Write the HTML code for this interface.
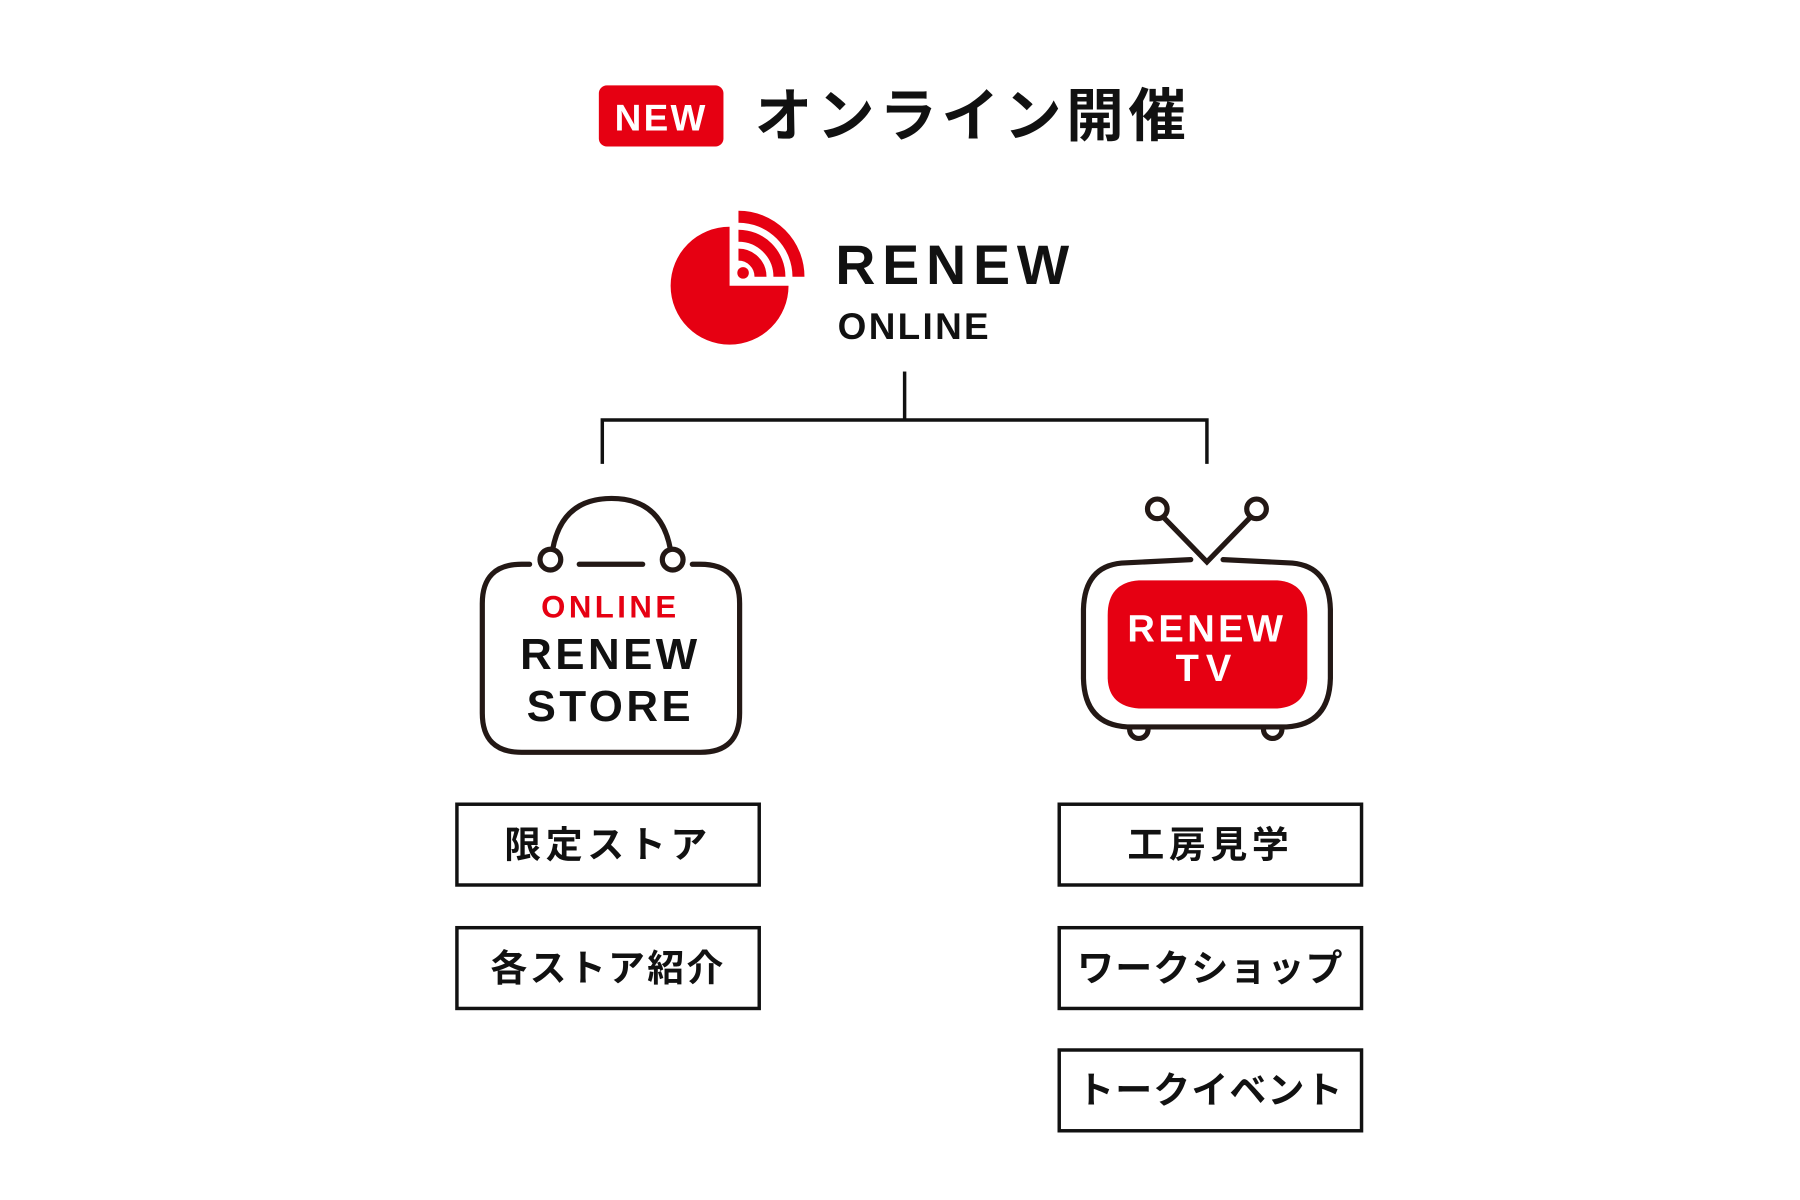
<!DOCTYPE html>
<html><head><meta charset="utf-8"><style>
html,body{margin:0;padding:0;background:#fff;}
svg{display:block;}
.jp{font-family:"Liberation Sans","Noto Sans CJK JP",sans-serif;font-weight:bold;}
.lat{font-family:"Liberation Sans","DejaVu Sans",sans-serif;font-weight:bold;}
</style></head><body>
<svg width="1800" height="1200" viewBox="3 2 1560 1040" xmlns="http://www.w3.org/2000/svg">
<rect x="0" y="0" width="1570" height="1050" fill="#fff"/>
<!-- title -->
<rect x="522" y="76" width="108" height="53" rx="7" fill="#e60012"/>
<text x="576" y="115" text-anchor="middle" class="lat" font-size="32" fill="#fff" letter-spacing="2">NEW</text>
<text x="846" y="120" text-anchor="middle" class="jp" font-size="50" fill="#111" letter-spacing="4">オンライン開催</text>
<!-- logo -->
<path d="M635.3 198.5 A51.1 51.1 0 1 0 686.4 249.6 L635.3 249.6 Z" fill="#e60012"/>
<g fill="none" stroke="#e60012" stroke-width="10.4">
<path d="M643 189.8 A52 52 0 0 1 695 241.8"/>
<path d="M643 206.3 A35.5 35.5 0 0 1 678.5 241.8"/>
<path d="M643 222.7 A19.1 19.1 0 0 1 662.1 241.8"/>
</g>
<circle cx="647" cy="238.5" r="5" fill="#e60012"/>
<text x="727" y="248" class="lat" font-size="48" fill="#111" letter-spacing="6">RENEW</text>
<text x="729" y="296" class="lat" font-size="32" fill="#111" letter-spacing="2">ONLINE</text>
<!-- connector -->
<g fill="none" stroke="#111" stroke-width="3">
<path d="M787 324 V366"/>
<path d="M525 404 V366 H1049 V404"/>
</g>
<!-- bag -->
<g fill="none" stroke="#231815" stroke-width="4.5" stroke-linecap="round">
<path d="M462 491 H455 Q421 491 421 525 V620 Q421 654 455 654 H610 Q644 654 644 620 V525 Q644 491 610 491 H603"/>
<path d="M505 491 H560"/>
<path d="M482 478 Q490 434 533 434 Q576 434 584 478"/>
<circle cx="480" cy="487" r="9"/>
<circle cx="586" cy="487" r="9"/>
</g>
<text x="532" y="537" text-anchor="middle" class="lat" font-size="27" fill="#e60012" letter-spacing="3">ONLINE</text>
<text x="532" y="582" text-anchor="middle" class="lat" font-size="38" fill="#111" letter-spacing="3">RENEW</text>
<text x="532" y="627" text-anchor="middle" class="lat" font-size="38" fill="#111" letter-spacing="3">STORE</text>
<!-- tv -->
<g fill="none" stroke="#231815" stroke-width="4.5" stroke-linecap="round">
<path d="M1035 487 L975 490 Q943 493 942 530 L942 590 Q943 630 980 632 H1118 Q1155 630 1156 590 L1156 530 Q1155 493 1123 490 L1063 487"/>
<path d="M1012 451 L1049 489 L1086 451"/>
<circle cx="1006" cy="443" r="8.5"/>
<circle cx="1092" cy="443" r="8.5"/>
<path d="M982 634 A8 8 0 0 0 998 634"/>
<path d="M1098 634 A8 8 0 0 0 1114 634"/>
</g>
<path d="M990 505 H1110 Q1136 507 1136 535 V590 Q1135 614 1110 616 H990 Q964 614 963 590 V535 Q963 507 990 505 Z" fill="#e60012"/>
<text x="1049" y="558" text-anchor="middle" class="lat" font-size="33" fill="#fff" letter-spacing="3">RENEW</text>
<text x="1049" y="592" text-anchor="middle" class="lat" font-size="33" fill="#fff" letter-spacing="6">TV</text>
<!-- boxes -->
<g fill="none" stroke="#111" stroke-width="3">
<rect x="399" y="699" width="262" height="70"/>
<rect x="399" y="806" width="262" height="70"/>
<rect x="921" y="699" width="262" height="70"/>
<rect x="921" y="806" width="262" height="70"/>
<rect x="921" y="912" width="262" height="70"/>
</g>
<g class="jp" font-size="32" fill="#111" text-anchor="middle">
<text x="530" y="745" letter-spacing="4">限定ストア</text>
<text x="530" y="852" letter-spacing="2">各ストア紹介</text>
<text x="1052" y="745" letter-spacing="4">工房見学</text>
<text x="1052" y="852" letter-spacing="1">ワークショップ</text>
<text x="1052" y="958" letter-spacing="1">トークイベント</text>
</g>
</svg>
</body></html>
